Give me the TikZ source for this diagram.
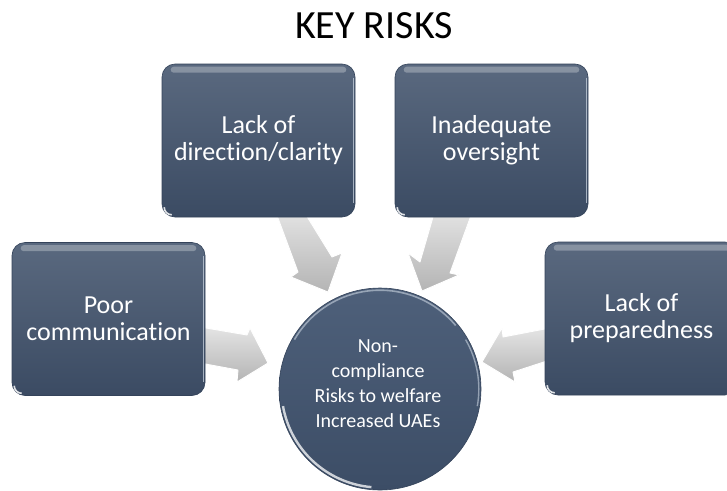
\documentclass[tikz,border=0pt]{standalone}
\usepackage{fontspec}
\setmainfont{Carlito}[Ligatures=NoCommon]
\usetikzlibrary{calc}
\definecolor{boxtop}{HTML}{5A697F}
\definecolor{boxbot}{HTML}{3B4B63}
\definecolor{boxedge}{HTML}{34435A}
\definecolor{hubtop}{HTML}{4E607A}
\definecolor{hubbot}{HTML}{3C4D66}
\definecolor{rimlight}{HTML}{C9D3DF}
\definecolor{arrowlight}{HTML}{E4E4E4}
\definecolor{arrowdark}{HTML}{B4B4B4}
\tikzset{
  riskbox/.style={rectangle, rounded corners=13pt, minimum width=193pt,
    minimum height=153pt, top color=boxtop, bottom color=boxbot,
    draw=boxedge, line width=0.6pt, text=white, align=center,
    font=\fontsize{26}{27}\selectfont, inner sep=0pt},
  hub/.style={circle, minimum size=202pt, inner sep=0pt, top color=hubtop,
    bottom color=hubbot, draw=boxedge, line width=0.6pt},
  hubtext/.style={text=white, align=center, font=\fontsize{20}{25}\selectfont},
  blockarrow/.style={top color=arrowlight, bottom color=arrowdark,
    draw=white, line width=0.9pt, line join=round},
  shine/.style={fill=white, opacity=0.28},
  rimline/.style={draw=rimlight, line width=1.2pt, opacity=0.75}
}
\newcommand{\boxshine}[1]{%
  \fill[shine, rounded corners=3pt] ($(#1.north west)+(9,-3)$) rectangle ($(#1.north east)+(-9,-9)$);
  \draw[rimline] ($(#1.north east)+(-1.6,-14)$) -- ($(#1.south east)+(-1.6,14)$);
  \draw[white, line width=1.6pt, opacity=0.85] ($(#1.south west)+(2.5,10)$) to[out=-90,in=180] ($(#1.south west)+(10,2.5)$);
}
\begin{document}
\begin{tikzpicture}[x=1pt,y=1pt]
\useasboundingbox (0,-490) rectangle (727,0);
\fill[white] (0,-490) rectangle (727,0);

\node[font=\fontsize{40}{48}\selectfont, anchor=base] (title) at (374,-38) {KEY RISKS};

% block arrows (drawn beneath the boxes)
\draw[blockarrow] (275,-210) -- (303,-210) -- (332,-257) -- (342,-253) -- (328,-292) -- (291,-277) -- (298,-272) -- cycle;
\draw[blockarrow] (435,-210) -- (473,-210) -- (450,-273) -- (459,-275) -- (422,-291) -- (408,-253) -- (420,-262) -- cycle;
\draw[blockarrow] (200,-327) -- (247,-335) -- (250,-328) -- (268,-363) -- (237,-382) -- (238,-370) -- (200,-363) -- cycle;
\draw[blockarrow] (550,-328) -- (503,-337) -- (502,-328) -- (482,-362) -- (515,-382) -- (513,-372) -- (550,-360) -- cycle;

% boxes
\node[riskbox] (dir) at (258.5,-140.5) {Lack of\\direction/clarity};
\node[riskbox] (over) at (491.5,-140.5) {Inadequate\\oversight};
\node[riskbox] (comm) at (108.5,-319) {Poor\\communication};
\node[riskbox] (prep) at (641.5,-318.5) {Lack of\\preparedness};
\boxshine{dir}
\boxshine{over}
\boxshine{comm}
\boxshine{prep}

% hub
\node[hub] (hub) at (380,-389) {};
\draw[white, line width=2.4pt, opacity=0.75] (hub.center) ++(190:98.5) arc[start angle=190, end angle=265, radius=98.5];
\draw[rimlight, line width=1.6pt, opacity=0.6] (hub.center) ++(40:98.8) arc[start angle=40, end angle=150, radius=98.8];
\draw[rimlight, line width=1.4pt, opacity=0.6] (hub.center) ++(-10:98.8) arc[start angle=-10, end angle=30, radius=98.8];
\node[hubtext, anchor=base] (hubtext) at (378,-427)
  {Non-\\compliance\\Risks to welfare\\Increased UAEs};
\end{tikzpicture}
\end{document}
